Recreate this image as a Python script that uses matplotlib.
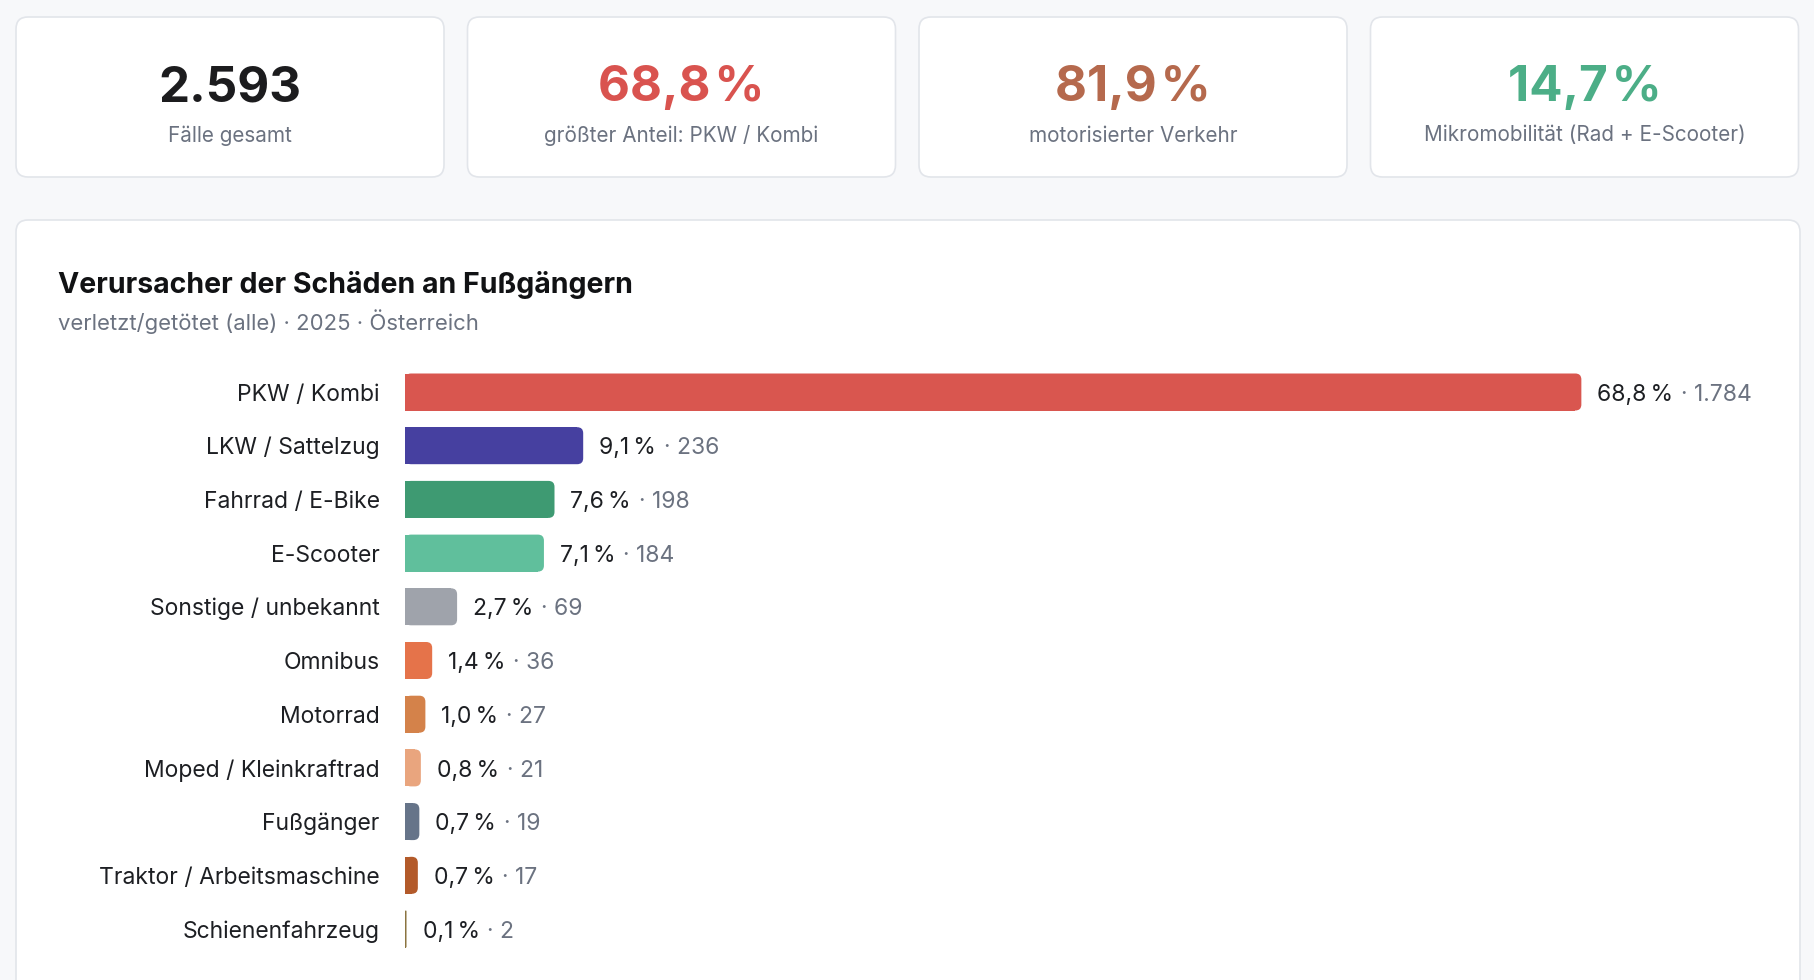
import matplotlib
matplotlib.use("Agg")
import matplotlib.pyplot as plt
from matplotlib.patches import FancyBboxPatch, Rectangle
from matplotlib import transforms

# ---------------- data ----------------
categories = ["PKW / Kombi", "LKW / Sattelzug", "Fahrrad / E-Bike", "E-Scooter",
              "Sonstige / unbekannt", "Omnibus", "Motorrad", "Moped / Kleinkraftrad",
              "Fußgänger", "Traktor / Arbeitsmaschine", "Schienenfahrzeug"]
counts = [1784, 236, 198, 184, 69, 36, 27, 21, 19, 17, 2]
shares = [68.8, 9.1, 7.6, 7.1, 2.7, 1.4, 1.0, 0.8, 0.7, 0.7, 0.1]
bar_colors = ["#d9564f", "#4640a0", "#3e9a72", "#60bf9c", "#9fa3ab", "#e5734a",
              "#d4824a", "#e9a57e", "#667489", "#b35a2a", "#8b7440"]

kpi_values = ["2.593", "68,8\u200a%", "81,9\u200a%", "14,7\u200a%"]
kpi_labels = ["Fälle gesamt", "größter Anteil: PKW / Kombi", "motorisierter Verkehr",
              "Mikromobilität (Rad + E-Scooter)"]
kpi_colors = ["#1c1c1e", "#d9534f", "#b5694d", "#4cae87"]

title = "Verursacher der Schäden an Fußgängern"
subtitle = "verletzt/getötet (alle) · 2025 · Österreich"

# ---------------- style ----------------
W, H, DPI = 1814, 980, 100
FONT = ["Inter", "DejaVu Sans"]
plt.rcParams["font.family"] = FONT
BG = "#f7f8fa"
BORDER = "#e2e5ea"
DARK = "#1d1f23"
GRAY = "#6b7280"


def fmt_pct(v):
    return f"{v:.1f}".replace(".", ",") + "\u2009%"


def fmt_int(n):
    return f"{n:,}".replace(",", ".")


fig = plt.figure(figsize=(W / DPI, H / DPI), dpi=DPI, facecolor=BG)

# background layout layer in pixel units
bg = fig.add_axes([0, 0, 1, 1])
bg.set_xlim(0, W)
bg.set_ylim(H, 0)
bg.axis("off")

# KPI cards
card_x0, card_w, card_gap = 16, 428, 23.5
card_y0, card_h = 17, 160
for k in range(4):
    x = card_x0 + k * (card_w + card_gap)
    bg.add_patch(FancyBboxPatch((x, card_y0), card_w, card_h,
                                boxstyle="round,pad=0,rounding_size=12",
                                facecolor="white", edgecolor=BORDER, linewidth=1.2))
    cx = x + card_w / 2
    bg.text(cx, 101.5, kpi_values[k], ha="center", va="baseline", fontsize=35.5,
            fontweight="bold", color=kpi_colors[k])
    bg.text(cx, 141.5, kpi_labels[k], ha="center", va="baseline", fontsize=14.9,
            color=GRAY)

# chart panel
bg.add_patch(FancyBboxPatch((16, 220), 1784, 820,
                            boxstyle="round,pad=0,rounding_size=12",
                            facecolor="white", edgecolor=BORDER, linewidth=1.2))
bg.text(58, 293.3, title, ha="left", va="baseline", fontsize=20.5,
        fontweight="bold", color="#111214")
bg.text(58, 330, subtitle, ha="left", va="baseline", fontsize=15.9, color=GRAY)

# ---------------- bars ----------------
n = len(categories)
track_left, track_right = 405, 1752
row0, step = 392, 53.7
bar_h_px = 37
ax = fig.add_axes([track_left / W, 1 - (row0 + step * (n - 0.5)) / H,
                   (track_right - track_left) / W, step * n / H])
ax.set_xlim(0, max(counts))
ax.set_ylim(n - 0.5, -0.5)
ax.axis("off")
ax.patch.set_alpha(0)

ppc = (track_right - track_left) / max(counts)   # pixels per count
bar_h = bar_h_px / step
m_aspect = (1 / step) / (1 / ppc)
radius_px = 6
gap_px = 16
label_fs = 16.5
cap_half = 8.6

renderer = fig.canvas.get_renderer()

lab_tr = transforms.offset_copy(ax.transData, fig=fig, x=-25.5, y=-cap_half, units="dots")
for i, (cat, c, s, col) in enumerate(zip(categories, counts, shares, bar_colors)):
    ax.text(0, i, cat, transform=lab_tr, ha="right", va="baseline",
            fontsize=label_fs, color=DARK)

    # value label (measured first, for flex-like clamping of the bar length)
    t1 = ax.text(0, i, fmt_pct(s), ha="left", va="baseline", fontsize=label_fs,
                 color=DARK)
    t2 = ax.annotate("· " + fmt_int(c), xy=(1, 0), xycoords=t1,
                     xytext=(5.5, 0), textcoords="offset points",
                     ha="left", va="bottom", fontsize=label_fs, color=GRAY)
    w_lab = (t1.get_window_extent(renderer).width + 5.5 * DPI / 72
             + t2.get_window_extent(renderer).width)
    max_px = (track_right - track_left) - gap_px - w_lab
    w = min(c, max_px / ppc)
    t1.set_transform(transforms.offset_copy(ax.transData, fig=fig, x=gap_px,
                                            y=-cap_half, units="dots"))
    t1.set_x(w)

    r = min(radius_px / ppc, w / 2)
    y0 = i - bar_h / 2
    ax.add_patch(FancyBboxPatch((0, y0), w, bar_h,
                                boxstyle=f"round,pad=0,rounding_size={r}",
                                mutation_aspect=m_aspect,
                                facecolor=col, edgecolor="none"))
    ax.add_patch(Rectangle((0, y0), max(w - r, 0), bar_h, facecolor=col,
                           edgecolor="none"))

fig.savefig("out.png", dpi=DPI, facecolor=BG)
